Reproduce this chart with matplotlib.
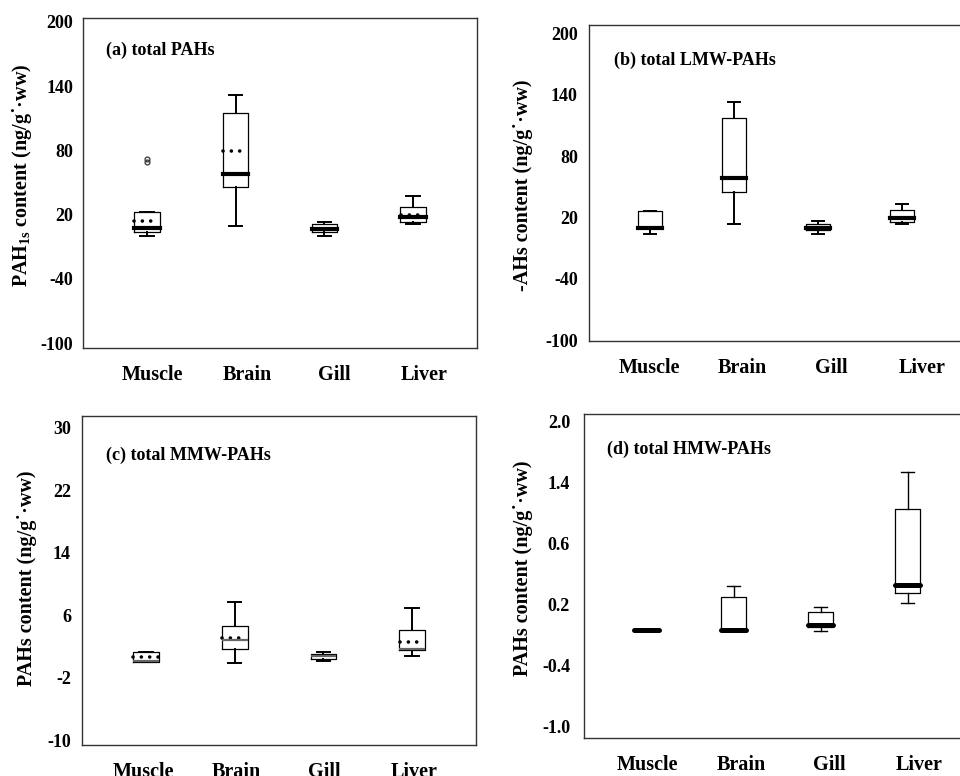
import numpy as np
import matplotlib
matplotlib.use("Agg")
import matplotlib.pyplot as plt

plt.rcParams['font.family'] = ['Liberation Serif', 'DejaVu Serif']
plt.rcParams['font.weight'] = 'bold'
plt.rcParams['axes.unicode_minus'] = False
plt.rcParams['mathtext.fontset'] = 'custom'
plt.rcParams['mathtext.rm'] = 'Liberation Serif:bold'
plt.rcParams['mathtext.bf'] = 'Liberation Serif:bold'
plt.rcParams['mathtext.it'] = 'Liberation Serif:bold:italic'
plt.rcParams['mathtext.default'] = 'rm'

#%% Data
tissues = ['Muscle', 'Brain', 'Gill', 'Liver']

# (a) total PAHs
a_whislo = [0.3, 9.0, 0.0, 11.0]
a_q1 = [4.0, 45.6, 4.0, 13.4]
a_med = [7.2, 58.4, 6.2, 17.5]
a_q3 = [22.8, 115.0, 11.0, 26.9]
a_whishi = [22.8, 131.9, 13.4, 37.2]
a_mean = [14.0, 79.0, 6.6, 19.7]
a_fliers = [[69.5, 71.5], [], [], []]
a_ticks = [200, 140, 80, 20, -40, -100]
a_ticklabels = ['200', '140', '80', '20', '-40', '-100']

# (b) total LMW-PAHs
b_whislo = [4.2, 13.3, 4.0, 13.3]
b_q1 = [10.0, 45.0, 7.8, 15.6]
b_med = [10.0, 58.5, 9.8, 19.2]
b_q3 = [26.7, 116.8, 13.9, 27.3]
b_whishi = [26.7, 133.0, 16.3, 33.5]
b_ticks = [200, 140, 80, 20, -40, -100]
b_ticklabels = ['200', '140', '80', '20', '-40', '-100']

# (c) total MMW-PAHs
c_whislo = [0.0, -0.1, 0.1, 0.8]
c_q1 = [0.0, 1.7, 0.4, 1.54]
c_med = [0.1, 2.8, 0.77, 1.7]
c_q3 = [1.24, 4.65, 1.06, 4.06]
c_whishi = [1.24, 7.7, 1.3, 6.95]
c_mean = [0.6, 3.03, None, 2.56]
c_ticks = [30, 22, 14, 6, -2, -10]
c_ticklabels = ['30', '22', '14', '6', '-2', '-10']

# (d) total HMW-PAHs
d_whislo = [-0.055, -0.057, -0.06, 0.21]
d_q1 = [-0.055, -0.057, -0.02, 0.31]
d_med = [-0.055, -0.057, 0.0, 0.39]
d_q3 = [-0.055, 0.275, 0.127, 1.14]
d_whishi = [-0.055, 0.377, 0.173, 1.50]
d_ticks = [2.0, 1.4, 0.8, 0.2, -0.4, -1.0]
d_ticklabels = ['2.0', '1.4', '0.6', '0.2', '-0.4', '-1.0']

ylab = 'PAHs content (ng/g\u02d9\u00b7ww)'

#%% Figure
W, H = 960, 776
fig = plt.figure(figsize=(W / 100, H / 100), dpi=100)


def add_ax(left, top, right, bottom):
    return fig.add_axes([left / W, 1 - bottom / H, (right - left) / W, (bottom - top) / H])


def panel(ax, whislo, q1, med, q3, whishi, xlim, ylim, ticks, ticklabels,
          labelpos, title, titlexy, ylabel, ylabelxy, ypad,
          mean=None, fliers=None, medprops=None, wlw=1.4):
    pos = np.arange(1, len(tissues) + 1)
    stats = []
    for i in range(len(tissues)):
        stats.append(dict(whislo=whislo[i], q1=q1[i], med=med[i], q3=q3[i],
                          whishi=whishi[i],
                          fliers=fliers[i] if fliers else []))
    ax.bxp(stats, positions=pos, widths=0.29, capwidths=0.15,
           boxprops=dict(color='black', lw=0.9),
           whiskerprops=dict(color='black', lw=wlw),
           capprops=dict(color='black', lw=wlw),
           medianprops=medprops,
           flierprops=dict(marker='o', markersize=3.5, markerfacecolor='none',
                           markeredgecolor='#333333', markeredgewidth=0.9))
    if mean is not None:
        # dotted mean line across the box
        for p, m in zip(pos, mean):
            if m is None:
                continue
            ax.plot([p - 0.142, p + 0.142], [m, m], color='black', lw=2.6,
                    ls=(0, (0.01, 2.3)), dash_capstyle='round')
    ax.set_xlim(xlim)
    ax.set_ylim(ylim)
    ax.set_yticks(ticks, ticklabels, fontsize=13)
    ax.set_xticks(labelpos, tissues, fontsize=14.5)
    ax.tick_params(axis='y', length=0, pad=ypad)
    ax.tick_params(axis='x', length=0, pad=12)
    for s in ax.spines.values():
        s.set_linewidth(1.0)
        s.set_color('#333333')
    ax.text(titlexy[0], titlexy[1], title, transform=ax.transAxes,
            fontsize=13, ha='left', va='center')
    ax.text(ylabelxy[0], ylabelxy[1], ylabel, transform=ax.transAxes,
            fontsize=14.5, rotation=90, ha='center', va='center')


thick = dict(color='black', lw=3.0, solid_capstyle='projecting')

ax_a = add_ax(83, 18, 477, 348)
panel(ax_a, a_whislo, a_q1, a_med, a_q3, a_whishi,
      xlim=(0.28, 4.72), ylim=(-104.4, 203.5),
      ticks=a_ticks, ticklabels=a_ticklabels,
      labelpos=[1.058, 2.129, 3.11, 4.12],
      title='(a) total PAHs', titlexy=(0.058, 0.903),
      ylabel='PAH$_{1s}$ content (ng/g\u02d9\u00b7ww)', ylabelxy=(-0.155, 0.524),
      ypad=7, mean=a_mean, fliers=a_fliers, medprops=thick)

ax_b = add_ax(589, 25, 965, 341)
panel(ax_b, b_whislo, b_q1, b_med, b_q3, b_whishi,
      xlim=(0.274, 4.75), ylim=(-100.6, 208.0),
      ticks=b_ticks, ticklabels=b_ticklabels,
      labelpos=[0.988, 2.095, 3.155, 4.238],
      title='(b) total LMW-PAHs', titlexy=(0.066, 0.889),
      ylabel='-AHs content (ng/g\u02d9\u00b7ww)', ylabelxy=(-0.176, 0.494),
      ypad=8, medprops=thick)

ax_c = add_ax(82, 416, 476, 745)
panel(ax_c, c_whislo, c_q1, c_med, c_q3, c_whishi,
      xlim=(0.278, 4.72), ylim=(-10.64, 31.5),
      ticks=c_ticks, ticklabels=c_ticklabels,
      labelpos=[0.966, 2.014, 3.006, 4.021],
      title='(c) total MMW-PAHs', titlexy=(0.061, 0.881),
      ylabel=ylab, ylabelxy=(-0.14, 0.508),
      ypad=8, mean=c_mean,
      medprops=dict(color='#666666', lw=1.6, solid_capstyle='butt'))

ax_d = add_ax(584, 414, 965, 738)
panel(ax_d, d_whislo, d_q1, d_med, d_q3, d_whishi,
      xlim=(0.279, 4.66), ylim=(-1.118, 2.076),
      ticks=d_ticks, ticklabels=d_ticklabels,
      labelpos=[1.003, 2.084, 3.095, 4.13],
      title='(d) total HMW-PAHs', titlexy=(0.060, 0.892),
      ylabel=ylab, ylabelxy=(-0.16, 0.525),
      ypad=10, wlw=1.0,
      medprops=dict(color='black', lw=3.6, solid_capstyle='round'))

fig.savefig('out.png', dpi=100)
